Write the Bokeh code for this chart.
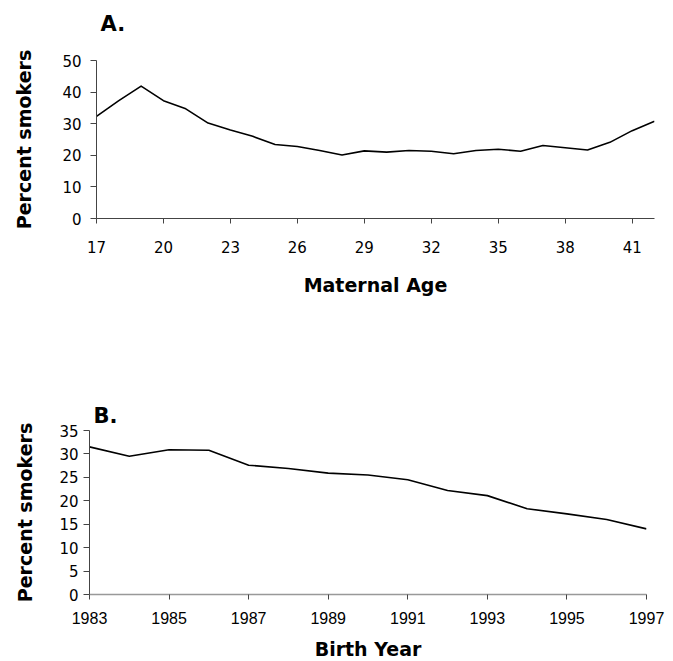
from bokeh.plotting import figure
from bokeh.models import Range1d, FixedTicker, Title
from bokeh.embed import file_html
from bokeh.resources import INLINE

# Panel A data
maternal_age = list(range(17, 43))
pct_smokers_age = [32.3, 37.3, 41.9, 37.3, 34.7, 30.2, 28.0, 26.0, 23.4, 22.8,
                   21.5, 20.1, 21.4, 21.0, 21.5, 21.3, 20.5, 21.5, 21.9, 21.3,
                   23.1, 22.4, 21.7, 24.1, 27.8, 30.8]
age_ticks = [17, 20, 23, 26, 29, 32, 35, 38, 41]
age_yticks = [0, 10, 20, 30, 40, 50]

# Panel B data
birth_year = list(range(1983, 1998))
pct_smokers_year = [31.5, 29.5, 30.9, 30.8, 27.6, 26.9, 25.9, 25.5, 24.5, 22.2,
                    21.1, 18.3, 17.2, 16.0, 14.0]
year_ticks = [1983, 1985, 1987, 1989, 1991, 1993, 1995, 1997]
year_yticks = [0, 5, 10, 15, 20, 25, 30, 35]

FONT = "DejaVu Sans"


def style(p, xticks, yticks, xfont, xsize, title, gap):
    p.grid.visible = False
    p.outline_line_color = None
    p.background_fill_color = "white"
    p.border_fill_color = "white"
    if gap > 0:
        # spacer between the frame and the panel letter
        p.add_layout(Title(text=" ", text_font_size="1px", standoff=gap), "above")
        st = 0
    else:
        st = 6
    p.add_layout(Title(text=title, text_font=FONT, text_font_size="21px",
                       text_font_style="bold", text_color="black", align="left",
                       offset=4, standoff=st), "above")
    for ax in p.axis:
        ax.axis_line_color = "#444444"
        ax.axis_line_width = 1
        ax.major_tick_line_color = "#444444"
        ax.major_tick_in = 0
        ax.minor_tick_out = 0
        ax.minor_tick_in = 0
        ax.axis_label_text_font = FONT
        ax.axis_label_text_font_size = "19px"
        ax.axis_label_text_font_style = "bold"
        ax.axis_label_text_color = "black"
        ax.major_label_text_color = "black"
    p.xaxis.ticker = FixedTicker(ticks=xticks, minor_ticks=[])
    p.yaxis.ticker = FixedTicker(ticks=yticks, minor_ticks=[])
    p.xaxis.major_tick_out = 5
    p.yaxis.major_tick_out = 6
    p.yaxis.major_label_text_font = FONT
    p.yaxis.major_label_text_font_size = "15px"
    p.xaxis.major_label_text_font = xfont
    p.xaxis.major_label_text_font_size = xsize


pA = figure(title=None, frame_width=558, frame_height=158, min_border_left=96,
            min_border_right=12, min_border_top=60, min_border_bottom=110,
            x_range=Range1d(17, 42), y_range=Range1d(0, 50),
            output_backend="svg", toolbar_location=None)
pA.line(maternal_age, pct_smokers_age, line_color="black", line_width=1.6, line_join="round")
style(pA, age_ticks, age_yticks, FONT, "15px", "A.", 22)
pA.xaxis.axis_label = "Maternal Age"
pA.yaxis.axis_label = "Percent smokers"
pA.yaxis.major_label_standoff = 9
pA.yaxis.axis_label_standoff = 24
pA.xaxis.major_label_standoff = 17
pA.xaxis.axis_label_standoff = 18

pB = figure(title=None, frame_width=557, frame_height=164, min_border_left=89,
            min_border_right=22, min_border_top=102, min_border_bottom=60,
            x_range=Range1d(1983, 1997), y_range=Range1d(0, 35),
            output_backend="svg", toolbar_location=None)
pB.line(birth_year, pct_smokers_year, line_color="black", line_width=1.6, line_join="round")
style(pB, year_ticks, year_yticks, "Liberation Sans", "16px", "B.", 0)
pB.xaxis.axis_line_color = "#999999"
pB.xaxis.axis_line_width = 1.5
pB.xaxis.axis_label = "Birth Year"
pB.yaxis.axis_label = "Percent smokers"
pB.yaxis.major_label_standoff = 5
pB.yaxis.axis_label_standoff = 20
pB.xaxis.major_label_standoff = 12
pB.xaxis.axis_label_standoff = 11

open("out.html", "w").write(file_html([pA, pB], INLINE))
